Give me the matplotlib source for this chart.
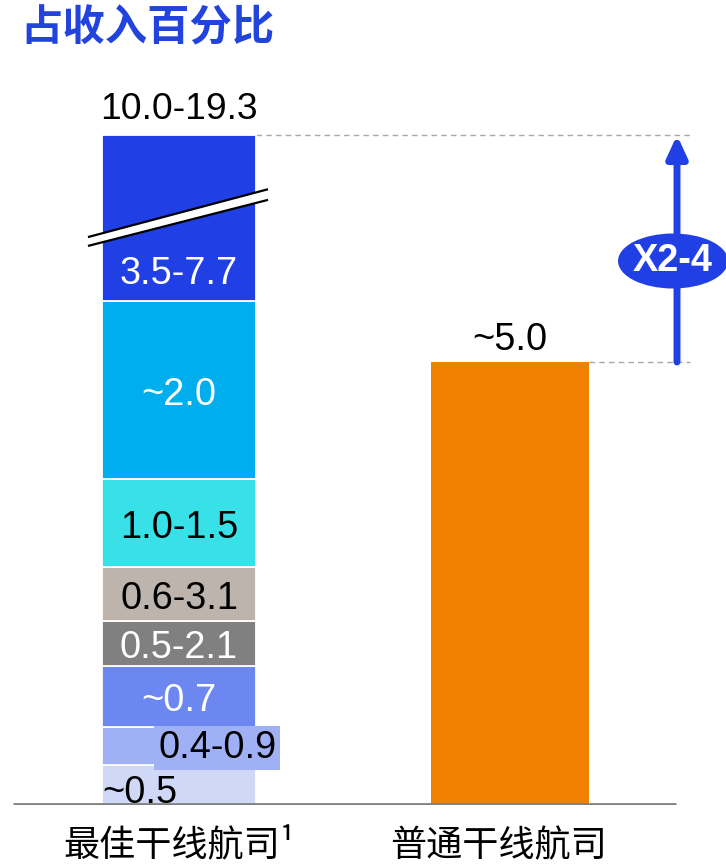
import matplotlib
matplotlib.use("Agg")
import matplotlib.pyplot as plt
from matplotlib.patches import Ellipse, Polygon

# ---------------- data ----------------
categories = ["最佳干线航司¹", "普通干线航司"]
# stacked segments of the best carrier (bottom -> top), displayed heights (% of revenue)
seg_heights = [0.45, 0.43, 0.69, 0.51, 0.61, 0.99, 2.01, 1.87]
seg_labels = ["~0.5", "0.4-0.9", "~0.7", "0.5-2.1", "0.6-3.1", "1.0-1.5", "~2.0", "3.5-7.7"]
seg_colors = ["#D0D8F8", "#A0B0F4", "#6C88F0", "#808080", "#BEB4AE", "#38E0E8", "#00AEEE", "#2040E6"]
seg_text_colors = ["black", "black", "white", "white", "black", "black", "white", "white"]
best_total_label = "10.0-19.3"
normal_value = 5.0
normal_label = "~5.0"
multiplier_label = "X2-4"
title = "占收入百分比"

CJK = ["Noto Sans CJK SC", "DejaVu Sans"]
NUM = "Liberation Sans"

fig = plt.figure(figsize=(7.26, 8.66), dpi=100)
ax = fig.add_axes([0, 61 / 866, 1, 805 / 866])
ax.set_xlim(-179 / 331, (726 - 179) / 331)
ax.set_ylim(0, 805 / 88.6)
ax.axis("off")

w = 0.465
x_best, x_norm = 0, 1
dy = -0.055  # small vertical text offset

# stacked bar
bottom = 0.0
bottoms = []
for h, c in zip(seg_heights, seg_colors):
    ax.bar(x_best, h, width=w, bottom=bottom, color=c, edgecolor="white", linewidth=1.3, zorder=2)
    bottoms.append(bottom)
    bottom += h
top_best = bottom

# orange bar
ax.bar(x_norm, normal_value, width=w + 0.01, color="#F08000", edgecolor="none", zorder=2)

# segment labels
fs = 27.3
for i, (lab, b, h, tc) in enumerate(zip(seg_labels, bottoms, seg_heights, seg_text_colors)):
    if i == 0:
        ax.text(x_best - w / 2, b + h / 2 - 0.03 + dy, lab, ha="left", va="center", fontsize=fs,
                family=NUM, color=tc, zorder=5)
    elif i == 1:
        ax.text(x_best + 0.115, b + h / 2 - 0.02, lab, ha="center", va="center", fontsize=fs,
                family=NUM, color=tc, zorder=5,
                bbox=dict(boxstyle="square,pad=0.1", fc=seg_colors[1], ec="none"))
    elif i == len(seg_labels) - 1:
        ax.text(x_best, b + 0.32 - 0.02, lab, ha="center", va="center", fontsize=fs,
                family=NUM, color=tc, zorder=5)
    else:
        ax.text(x_best, b + h / 2 + dy, lab, ha="center", va="center", fontsize=fs,
                family=NUM, color=tc, zorder=5)

# break symbol on top segment
xl, xr = -0.275, 0.269
yu_l, yu_r = top_best - 1.15, top_best - 0.61
yl_l, yl_r = top_best - 1.25, top_best - 0.73
ax.add_patch(Polygon([[xl, yu_l], [xr, yu_r], [xr, yl_r], [xl, yl_l]], closed=True,
                     fc="white", ec="none", zorder=3))
ax.plot([xl, xr], [yu_l, yu_r], color="black", lw=1.6, zorder=4, solid_capstyle="butt")
ax.plot([xl, xr], [yl_l, yl_r], color="black", lw=1.6, zorder=4, solid_capstyle="butt")

# top labels
ax.text(x_best, top_best + 0.29, best_total_label, ha="center", va="center", fontsize=26.8,
        family=NUM, color="black")
ax.text(x_norm, normal_value + 0.25, normal_label, ha="center", va="center", fontsize=fs,
        family=NUM, color="black")

# dashed guide lines
x_guide_end = (690 - 179) / 331
ax.plot([x_best + w / 2, x_guide_end], [top_best, top_best], color="#A8A8A8", lw=1.0,
        ls=(0, (4, 3)), zorder=1)
ax.plot([x_norm + (w + 0.01) / 2, x_guide_end], [normal_value, normal_value], color="#A8A8A8",
        lw=1.0, ls=(0, (4, 3)), zorder=1)

# arrow
x_arr = (677 - 179) / 331
ax.annotate("", xy=(x_arr, top_best), xytext=(x_arr, normal_value),
            arrowprops=dict(arrowstyle="-|>,head_width=0.6,head_length=1.3", lw=5,
                            color="#2040E6", shrinkA=0, shrinkB=0), zorder=3)
ell_y = (805 - 261) / 88.6
ax.add_patch(Ellipse((x_arr - 0.012, ell_y), 110 / 331, 55 / 88.6, fc="#2040E6", ec="none", zorder=4))
ax.text(x_arr - 0.012, ell_y, multiplier_label, ha="center", va="center", fontsize=fs,
        family=NUM, weight="bold", color="white", zorder=5)

# baseline
ax.plot([(13 - 179) / 331, (676 - 179) / 331], [0, 0], color="#808080", lw=3.4, zorder=3,
        solid_capstyle="butt")

# category labels
cat_offsets = [0.0, -0.035]
for xi, cat, off in zip([x_best, x_norm], categories, cat_offsets):
    ax.text(xi + off, -41 / 88.6, cat, ha="center", va="center", fontsize=26, family=CJK,
            color="black", clip_on=False)

# title
fig.text(20 / 726, 1 - 28 / 866, title, ha="left", va="center", fontsize=30.5, family=CJK,
         weight="bold", color="#2244DD")

fig.savefig("out.png", dpi=100)
